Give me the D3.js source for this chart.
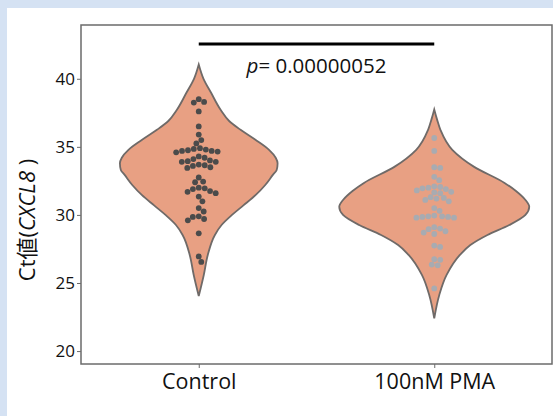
<!DOCTYPE html>
<html>
<head>
<meta charset="utf-8">
<script src="https://cdn.jsdelivr.net/npm/d3@7"></script>
<style>
  body { margin: 0; background: #d5e2f3; }
  #chart { position: absolute; left: 0; top: 0; }
</style>
</head>
<body>
<div id="chart"></div>
<script>
// categories
const groups = ["Control", "100nM PMA"];

// Ct values per group
const ctControl = [38.5, 38.3, 38.25, 37.6, 36.5, 35.9, 35.5, 35.25,
  34.9, 34.85, 34.8, 34.75, 34.7, 34.7, 34.65, 34.6,
  34.3, 34.2, 34.1, 34.0, 33.95, 33.9, 33.9,
  33.7, 33.65, 33.6, 33.5, 33.45,
  32.75, 32.45, 32.4, 32.0, 31.95, 31.9, 31.75, 31.7, 31.6, 31.35, 31.0,
  30.5, 30.25, 29.9, 29.85, 29.7, 29.6,
  28.65, 26.95, 26.55];
const ctPMA = [35.65, 34.7, 33.5, 33.45, 32.8, 32.55,
  32.1, 32.05, 32.0, 31.95, 31.9, 31.8, 31.7, 31.65, 31.6,
  31.3, 31.25, 31.2, 31.1, 31.0, 30.5, 30.3,
  29.95, 29.9, 29.9, 29.85, 29.85, 29.8, 29.8,
  29.1, 29.0, 28.95, 28.8, 28.7, 28.6,
  27.75, 27.65, 26.75, 26.7, 26.35, 26.3, 24.6];

// violin outline: [Ct, relative density]
const violinControl = [[41.05, 0], [40.0, 0.05], [38.97, 0.13], [37.72, 0.23], [36.9, 0.32],
  [36.25, 0.44], [35.5, 0.6], [34.78, 0.74], [34.2, 0.81], [33.8, 0.83], [33.3, 0.82],
  [32.94, 0.78], [32.2, 0.7], [31.47, 0.6], [30.7, 0.47], [30.0, 0.35], [29.26, 0.24],
  [28.53, 0.17], [27.06, 0.095], [25.59, 0.053], [24.04, 0]];
const violinPMA = [[37.75, 0], [37.0, 0.03], [36.25, 0.065], [34.78, 0.19], [33.53, 0.42],
  [32.35, 0.74], [31.76, 0.86], [31.1, 0.96], [30.6, 1.0], [30.0, 0.96], [29.26, 0.79],
  [28.53, 0.56], [27.79, 0.38], [27.06, 0.27], [25.59, 0.13], [24.12, 0.053], [22.4, 0]];

const yTicks = [20, 25, 30, 35, 40];
const pLabel = "0.00000052";

const width = 553, height = 416;
const margin = { top: 25, left: 81, bottom: 52, right: 1 };

const svg = d3.select("#chart").append("svg")
  .attr("width", width).attr("height", height);

// white panel
svg.append("rect").attr("x", 7).attr("y", 8)
  .attr("width", width - 7).attr("height", height - 8).attr("fill", "#fff");

const x = d3.scalePoint().domain(groups)
  .range([margin.left, width - margin.right]).padding(0.5);
const y = d3.scaleLinear().domain([19.05, 43.95])
  .range([height - margin.bottom, margin.top]);
const w = d3.scaleLinear().domain([0, 1]).range([0, 95]);

const series = [
  { name: groups[0], values: ctControl, violin: violinControl, dot: "#4b4b4b" },
  { name: groups[1], values: ctPMA, violin: violinPMA, dot: "#a8abb1" }
];

const area = d3.area()
  .y(d => y(d[0]))
  .curve(d3.curveMonotoneY);

series.forEach(s => {
  const cx = x(s.name);
  svg.append("path")
    .datum(s.violin)
    .attr("d", area.x0(d => cx - w(d[1])).x1(d => cx + w(d[1])))
    .attr("fill", "#e8a083")
    .attr("stroke", "#6f6a68")
    .attr("stroke-width", 1.8);

  // simple beeswarm
  const r = 2.9, d2 = 2 * r + 0.2;
  const placed = [];
  s.values.slice().sort((a, b) => b - a).forEach(v => {
    const py = y(v);
    const near = placed.filter(p => Math.abs(p.y - py) < d2);
    const cands = [0];
    near.forEach(p => {
      const dx = Math.sqrt(d2 * d2 - (p.y - py) ** 2);
      cands.push(p.dx + dx, p.dx - dx);
    });
    cands.sort((a, b) => Math.abs(a) - Math.abs(b));
    const ok = cands.find(c => near.every(p => (p.dx - c) ** 2 + (p.y - py) ** 2 >= d2 * d2 - 0.01));
    placed.push({ dx: ok, y: py });
  });
  svg.append("g").selectAll("circle").data(placed).join("circle")
    .attr("cx", p => cx + p.dx).attr("cy", p => p.y).attr("r", r)
    .attr("fill", s.dot);
});

// frame
svg.append("rect")
  .attr("x", margin.left).attr("y", margin.top)
  .attr("width", width - margin.right - margin.left)
  .attr("height", height - margin.bottom - margin.top)
  .attr("fill", "none").attr("stroke", "#6b6b6b").attr("stroke-width", 1.5);

const yAxis = svg.append("g")
  .attr("transform", `translate(${margin.left},0)`)
  .call(d3.axisLeft(y).tickValues(yTicks).tickSize(4).tickPadding(2));
yAxis.select(".domain").remove();
yAxis.selectAll("line").attr("stroke", "#6b6b6b");
yAxis.selectAll("text").attr("font-family", "Open Sans, sans-serif")
  .attr("font-size", 17).attr("fill", "#111");

const xAxis = svg.append("g")
  .attr("transform", `translate(0,${height - margin.bottom})`)
  .call(d3.axisBottom(x).tickSize(4).tickPadding(6));
xAxis.select(".domain").remove();
xAxis.selectAll("line").attr("stroke", "#6b6b6b");
xAxis.selectAll("text").attr("font-family", "Open Sans, sans-serif")
  .attr("font-size", 21.5).attr("fill", "#111");

// y title
const yt = svg.append("text")
  .attr("transform", "translate(35,220) rotate(-90)")
  .attr("text-anchor", "middle")
  .attr("font-family", "Open Sans, Noto Sans CJK JP, sans-serif")
  .attr("font-size", 22).attr("fill", "#111");
yt.append("tspan").text("Ct");
yt.append("tspan").attr("font-family", "Noto Sans CJK JP").text("値");
yt.append("tspan").text("(");
yt.append("tspan").attr("font-style", "italic").text("CXCL8");
yt.append("tspan").text(" )");

// significance bar
svg.append("line")
  .attr("x1", x(groups[0])).attr("x2", x(groups[1]))
  .attr("y1", 44).attr("y2", 44)
  .attr("stroke", "#000").attr("stroke-width", 3);
const pt = svg.append("text")
  .attr("x", (x(groups[0]) + x(groups[1])) / 2).attr("y", 73)
  .attr("text-anchor", "middle")
  .attr("font-family", "Open Sans, sans-serif")
  .attr("font-size", 20.5).attr("fill", "#111");
pt.append("tspan").attr("font-style", "italic").text("p");
pt.append("tspan").text("= " + pLabel);
</script>
</body>
</html>
